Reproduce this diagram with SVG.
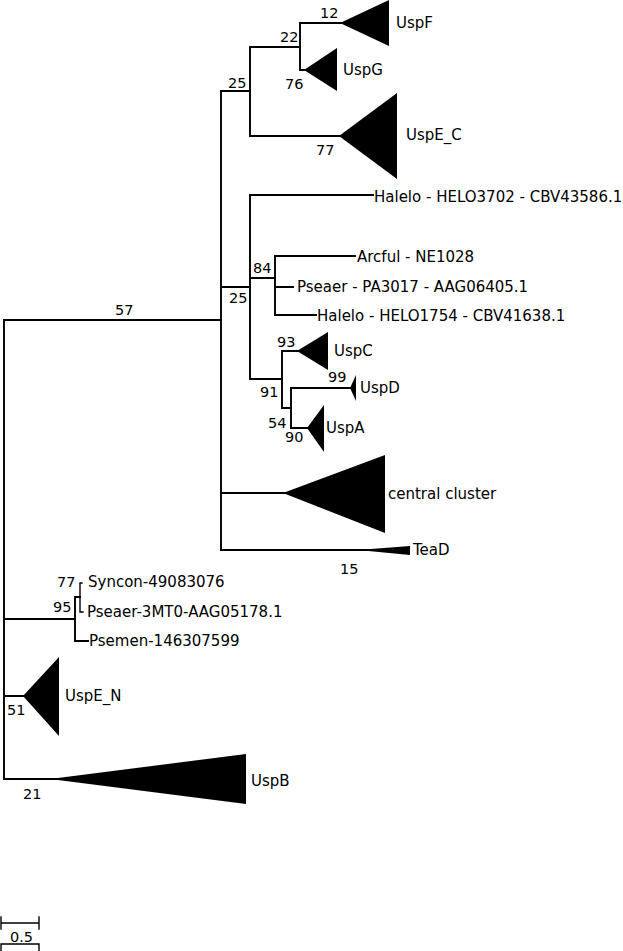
<svg xmlns="http://www.w3.org/2000/svg" width="623" height="951" viewBox="0 0 623 951">
<style>
.e{fill:none;stroke:#000;stroke-width:1.9;stroke-linecap:square}
.t{fill:#000}
text{font-family:"DejaVu Sans","Liberation Sans",sans-serif;fill:#000}
.l{font-size:15px}
.n{font-size:14.5px}
</style>
<rect width="623" height="951" fill="#fff"/>
<g id="connectors">
<path class="e" d="M4,320V779M4,320H221M4,619H75M4,696H26M4,779H60"/>
<path class="e" d="M221,91V550M221,91H250M221,287H250M221,493H290M221,550H372"/>
<path class="e" d="M250,47V136M250,47H300M250,136H343"/>
<path class="e" d="M300,23V70M300,23H344M300,70H307"/>
<path class="e" d="M250,195V379M250,195H373M250,278H275M250,379H282"/>
<path class="e" d="M275,256V315M275,256H355M275,287H293M275,315H316"/>
<path class="e" d="M282,351V408M282,351H300M282,408H291"/>
<path class="e" d="M291,388V428M291,388H352M291,428H310"/>
<path class="e" d="M75,597V641M75,597H80M75,641H88"/>
<path class="e" style="stroke-width:1.4" d="M80,583V612M80,583H82M80,612H83"/>
</g>
<g id="UspF"><polygon class="t" points="340,23 389,0 389,46"/><text class="l" x="396" y="28">UspF</text></g>
<g id="UspG"><polygon class="t" points="304,70 337,48 337,91"/><text class="l" x="343" y="75">UspG</text></g>
<g id="UspE_C"><polygon class="t" points="339,136 397,93 397,179"/><text class="l" x="406" y="140">UspE_C</text></g>
<g id="HELO3702"><text class="l" x="374" y="202">Halelo - HELO3702 - CBV43586.1</text></g>
<g id="NE1028"><text class="l" x="357" y="262">Arcful - NE1028</text></g>
<g id="PA3017"><text class="l" x="297" y="292">Pseaer - PA3017 - AAG06405.1</text></g>
<g id="HELO1754"><text class="l" x="317" y="321">Halelo - HELO1754 - CBV41638.1</text></g>
<g id="UspC"><polygon class="t" points="297,351 328,332 328,370"/><text class="l" x="334" y="356">UspC</text></g>
<g id="UspD"><polygon class="t" points="350,388 356,375 356,401"/><text class="l" x="360" y="393">UspD</text></g>
<g id="UspA"><polygon class="t" points="307,428 324,405 324,452"/><text class="l" x="326" y="433">UspA</text></g>
<g id="central"><polygon class="t" points="283,493 385,455 385,533"/><text class="l" x="388" y="499">central cluster</text></g>
<g id="TeaD"><polygon class="t" points="358,550 410,546 410,555"/><text class="l" x="413" y="555">TeaD</text></g>
<g id="Syncon"><text class="l" x="88" y="587">Syncon-49083076</text></g>
<g id="Pseaer3MT0"><text class="l" x="87" y="617">Pseaer-3MT0-AAG05178.1</text></g>
<g id="Psemen"><text class="l" x="89" y="646">Psemen-146307599</text></g>
<g id="UspE_N"><polygon class="t" points="23,696 59,657 59,736"/><text class="l" x="65" y="701">UspE_N</text></g>
<g id="UspB"><polygon class="t" points="50,779 246,754 246,804"/><text class="l" x="251" y="786">UspB</text></g>
<g id="support">
<text class="n" x="320" y="18">12</text>
<text class="n" x="280" y="42">22</text>
<text class="n" x="285" y="89">76</text>
<text class="n" x="316" y="155">77</text>
<text class="n" x="228" y="88">25</text>
<text class="n" x="253" y="273">84</text>
<text class="n" x="229" y="303">25</text>
<text class="n" x="277" y="347">93</text>
<text class="n" x="260" y="397">91</text>
<text class="n" x="328" y="382">99</text>
<text class="n" x="268" y="428">54</text>
<text class="n" x="285" y="442">90</text>
<text class="n" x="340" y="574">15</text>
<text class="n" x="115" y="315">57</text>
<text class="n" x="57" y="587">77</text>
<text class="n" x="53" y="612">95</text>
<text class="n" x="7" y="715">51</text>
<text class="n" x="23" y="799">21</text>
</g>
<g id="scale">
<path class="e" style="stroke-width:1.4" d="M1,923H39M1,917V929M39,917V929M1,944H39M1,944V951M39,944V951"/>
<text class="n" x="10" y="942">0.5</text>
</g>
</svg>
